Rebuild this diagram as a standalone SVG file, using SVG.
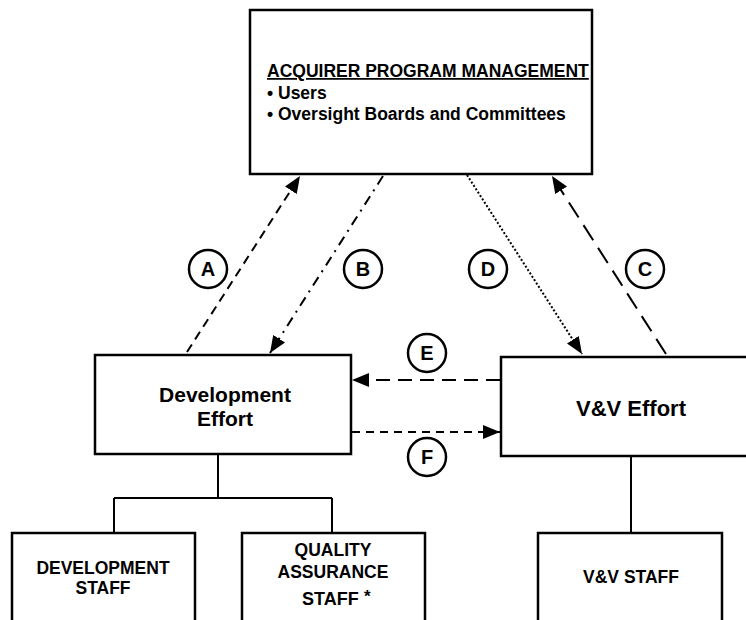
<svg xmlns="http://www.w3.org/2000/svg" width="746" height="620" viewBox="0 0 746 620">
<style>
  .box { fill: #fff; stroke: #000; stroke-width: 2.5; }
  .t { font-family: "Liberation Sans", Arial, sans-serif; font-weight: bold; fill: #000; }
  .c { text-anchor: middle; }
  .conn { fill: none; stroke: #000; stroke-width: 2; }
  .lab circle { fill: #fff; stroke: #000; stroke-width: 2.5; }
  .lab text { font-family: "Liberation Sans", Arial, sans-serif; font-weight: bold; font-size: 20px; text-anchor: middle; }
</style>
<defs>
  <marker id="ah" markerUnits="userSpaceOnUse" markerWidth="18" markerHeight="14" refX="17" refY="7" orient="auto">
    <path d="M0,0 L17,7 L0,14 z" fill="#000"/>
  </marker>
</defs>
<rect width="746" height="620" fill="#fff"/>

<g id="connectors">
  <line class="conn" x1="187" y1="352" x2="300" y2="176" stroke-dasharray="9 6" marker-end="url(#ah)"/>
  <line class="conn" x1="383" y1="176" x2="270" y2="353" stroke-dasharray="10 6 2 6" marker-end="url(#ah)"/>
  <line class="conn" x1="467" y1="175" x2="582" y2="354" stroke-dasharray="2 2" marker-end="url(#ah)"/>
  <line class="conn" x1="666" y1="354" x2="552" y2="176" stroke-dasharray="18 9" marker-end="url(#ah)"/>
  <line class="conn" x1="500" y1="380" x2="352" y2="380" stroke-dasharray="14 8" marker-end="url(#ah)"/>
  <line class="conn" x1="352" y1="432" x2="500" y2="432" stroke-dasharray="8 6" marker-end="url(#ah)"/>
  <path class="conn" d="M218,455 V498 M114,498 H332 M114,498 V533 M332,498 V533 M631,456 V533"/>
</g>

<g id="acquirer">
  <rect class="box" x="250" y="10" width="342" height="164" stroke-width="3.5"/>
  <text class="t" x="267" y="77" font-size="17.5" text-decoration="underline">ACQUIRER PROGRAM MANAGEMENT</text>
  <text class="t" x="267" y="99" font-size="17.5">• Users</text>
  <text class="t" x="267" y="120" font-size="17.5">• Oversight Boards and Committees</text>
</g>

<g id="development-effort">
  <rect class="box" x="95" y="355" width="256" height="99"/>
  <text class="t c" x="225" y="402" font-size="21">Development</text>
  <text class="t c" x="225" y="426" font-size="21">Effort</text>
</g>

<g id="vv-effort">
  <rect class="box" x="501" y="357" width="260" height="99"/>
  <text class="t c" x="631" y="416" font-size="22">V&amp;V Effort</text>
</g>

<g id="development-staff">
  <rect class="box" x="12" y="533" width="183" height="100"/>
  <text class="t c" x="103" y="574" font-size="17.5">DEVELOPMENT</text>
  <text class="t c" x="103" y="594" font-size="17.5">STAFF</text>
</g>

<g id="qa-staff">
  <rect class="box" x="242" y="533" width="183" height="100"/>
  <text class="t c" x="333" y="556" font-size="17.5">QUALITY</text>
  <text class="t c" x="333" y="578" font-size="17.5">ASSURANCE</text>
  <text class="t" x="302" y="605" font-size="18">STAFF</text>
  <text class="t" x="364" y="602" font-size="17">*</text>
</g>

<g id="vv-staff">
  <rect class="box" x="538" y="533" width="184" height="100"/>
  <text class="t c" x="631" y="583" font-size="17.5">V&amp;V STAFF</text>
</g>

<g id="label-A" class="lab"><circle cx="208" cy="269" r="19"/><text x="208" y="276">A</text></g>
<g id="label-B" class="lab"><circle cx="363" cy="269" r="19"/><text x="363" y="276">B</text></g>
<g id="label-D" class="lab"><circle cx="488" cy="269" r="19"/><text x="488" y="276">D</text></g>
<g id="label-C" class="lab"><circle cx="645" cy="269" r="19"/><text x="645" y="276">C</text></g>
<g id="label-E" class="lab"><circle cx="427" cy="353" r="19"/><text x="427" y="360">E</text></g>
<g id="label-F" class="lab"><circle cx="427" cy="457" r="19"/><text x="427" y="464">F</text></g>
</svg>
